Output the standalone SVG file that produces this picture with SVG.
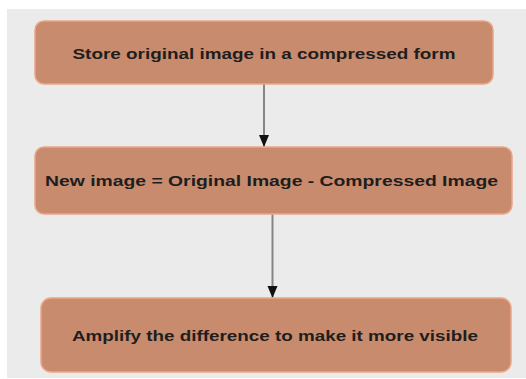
<svg xmlns="http://www.w3.org/2000/svg" width="526" height="379" viewBox="0 0 526 379">
<defs>
<style>
.box{fill:#C88B6D;stroke:#EBA688;stroke-width:1.5}
.lbl{font-family:"Liberation Sans",Arial,sans-serif;font-weight:bold;font-size:15px;fill:#1e1e1e;text-anchor:middle;dominant-baseline:central}
.edge{stroke:#858585;stroke-width:2;fill:none}
</style>
<marker id="ah" viewBox="0 0 12 12" refX="12" refY="6" markerWidth="12" markerHeight="12" markerUnits="userSpaceOnUse" orient="auto">
<path d="M0,1 L12,6 L0,11 Z" fill="#111"/>
</marker>
</defs>
<rect x="0" y="0" width="526" height="379" fill="#fff"/>
<rect x="7" y="9" width="519" height="369" fill="#EBEBEB"/>
<g id="connectors">
<line class="edge" x1="264" y1="84" x2="264" y2="147" marker-end="url(#ah)"/>
<line class="edge" x1="272.5" y1="214" x2="272.5" y2="298" marker-end="url(#ah)"/>
</g>
<g id="n1">
<rect class="box" x="35" y="21" width="458" height="63" rx="9"/>
<text class="lbl" x="264" y="53" textLength="383" lengthAdjust="spacingAndGlyphs">Store original image in a compressed form</text>
</g>
<g id="n2">
<rect class="box" x="35" y="147" width="477" height="67" rx="9"/>
<text class="lbl" x="271.5" y="180" textLength="453" lengthAdjust="spacingAndGlyphs">New image = Original Image - Compressed Image</text>
</g>
<g id="n3">
<rect class="box" x="41" y="298" width="470" height="74" rx="10"/>
<text class="lbl" x="275" y="335" textLength="406" lengthAdjust="spacingAndGlyphs">Amplify the difference to make it more visible</text>
</g>
</svg>
